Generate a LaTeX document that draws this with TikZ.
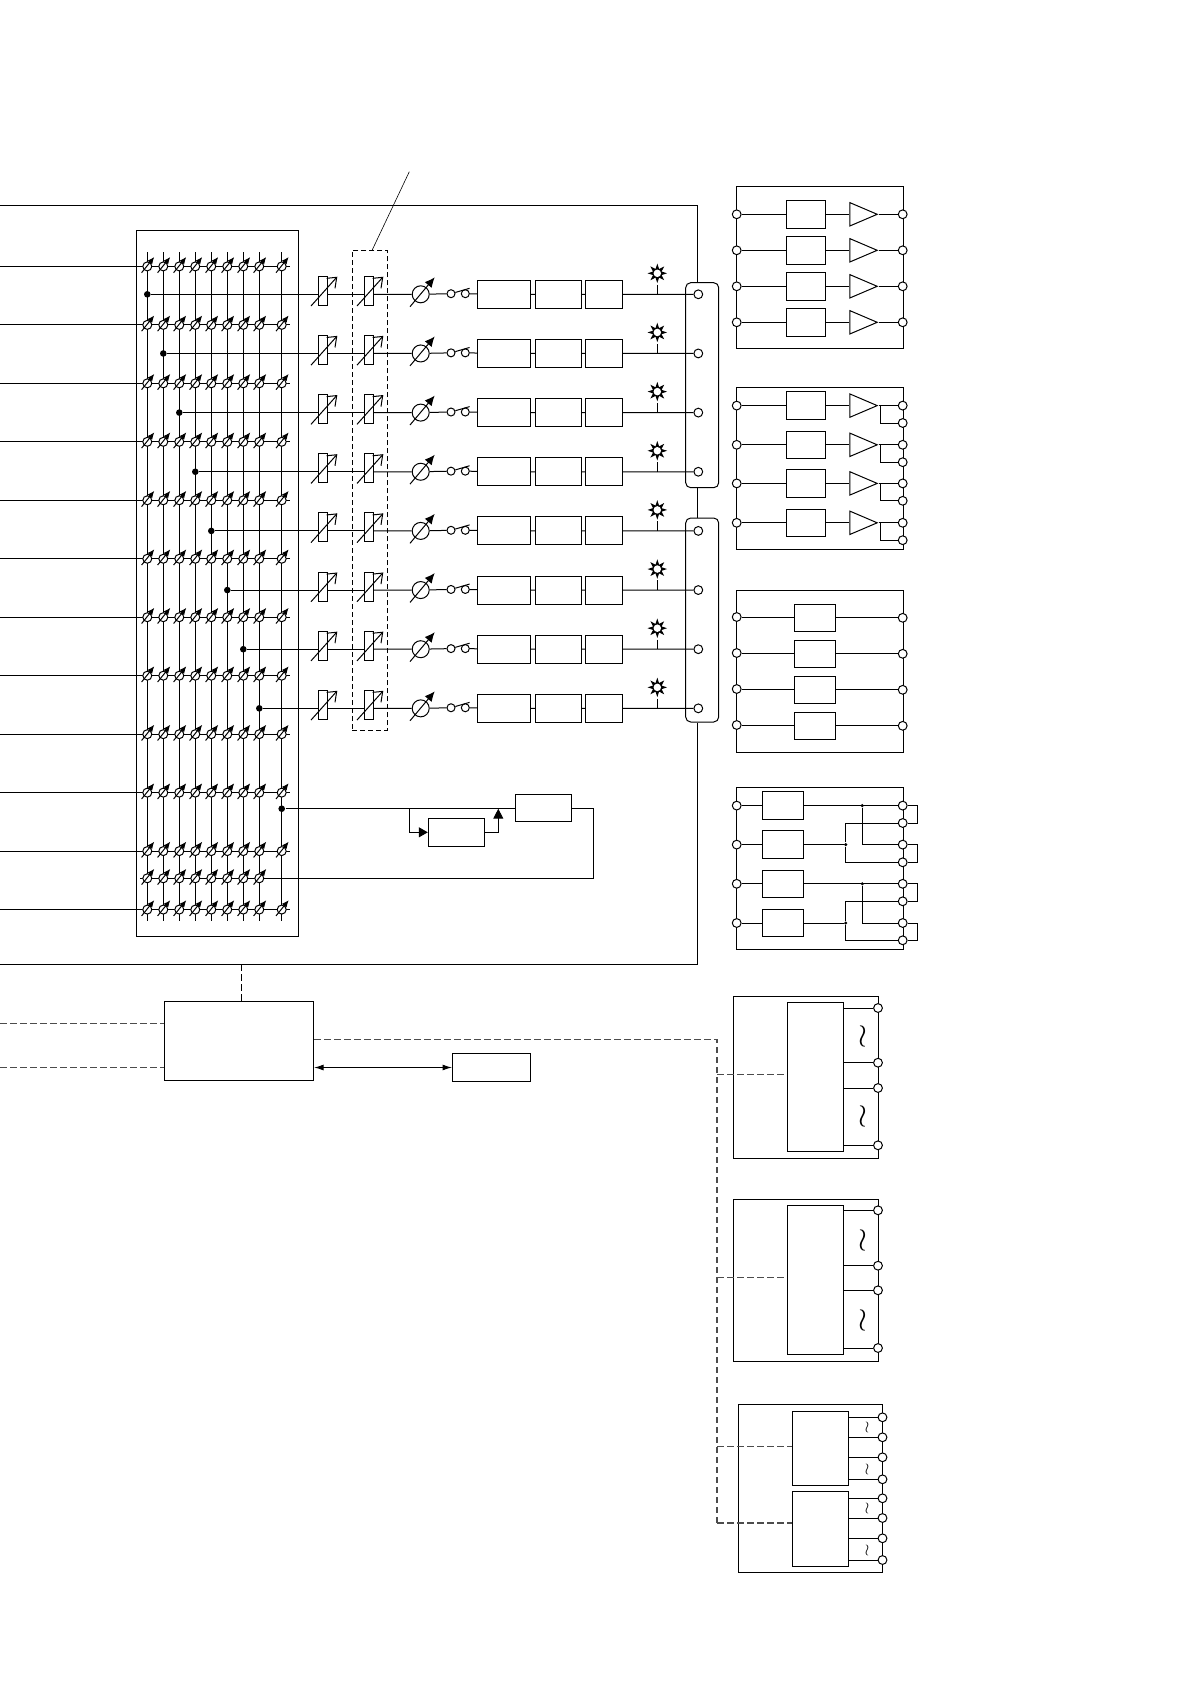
\documentclass[tikz,border=0pt]{standalone}
\usetikzlibrary{arrows.meta,positioning,calc,shapes.geometric}

\begin{document}
\begin{tikzpicture}[
  x=1pt,y=-1pt,line width=1pt,
  blk/.style={draw,fill=white,inner sep=0pt},
  chA/.style={blk,minimum width=53.4pt,minimum height=28pt},
  chB/.style={blk,minimum width=46.4pt,minimum height=28pt},
  chC/.style={blk,minimum width=37.4pt,minimum height=28pt},
  rvbar/.style={blk,minimum width=9.4pt,minimum height=29pt},
  modbox/.style={blk,minimum width=39.4pt,minimum height=27.6pt},
  frame/.style={draw,inner sep=0pt,minimum width=167pt,minimum height=162pt},
  term/.style={circle,draw,fill=white,inner sep=0pt,minimum size=8.8pt},
  junc/.style={circle,fill=black,inner sep=0pt,minimum size=6.6pt},
  smalljunc/.style={circle,fill=black,inner sep=0pt,minimum size=3.4pt},
  amp/.style={isosceles triangle,isosceles triangle stretches,draw,fill=white,inner sep=0pt,
    minimum width=23.4pt,minimum height=27.4pt,anchor=lower side},
  dashline/.style={dash pattern=on 6.5pt off 3.5pt,line width=1.1pt,black!70},
  flow/.style={{Latex[length=9.5pt,width=6pt]}-{Latex[length=9.5pt,width=6pt]}},
  trim/.pic={
    \draw[fill=white] (0,0) circle (4.5pt);
    \draw[-{Latex[length=7pt,width=6pt]}] (-5.7,6.3) -- (7,-9.4);
  },
  rvslash/.pic={
    \draw (-12,11.7) -- (13.7,-17);
    \draw (3.7,-16) -- (13.7,-17) -- (12,-6);
  },
  tune/.pic={
    \draw[-{Latex[length=10pt,width=9pt]}] (-10.7,12.4) -- (14,-17);
  },
  lamp/.style={star,star points=8,star point ratio=2.1,fill=black,inner sep=0pt,minimum size=19.5pt}
]
  \useasboundingbox (0,0) rectangle (1190,1684);

  % matrix
  \node[draw,inner sep=0pt,minimum width=161.5pt,minimum height=706pt] (matrix) at (217.25,583) {};
  \foreach \c/\cx in {0/147.3,1/163.3,2/179.3,3/195.3,4/211.3,5/227.3,6/243.3,7/259.3,8/281.7} {
    \coordinate (colT\c) at (\cx,252);
    \coordinate (colB\c) at (\cx,921);
    \draw (colT\c) -- (colB\c);
  }
  \foreach \r in {0,...,11} {
    \pgfmathsetmacro\ry{266.4+58.47*\r}
    \coordinate (rowL\r) at (0,\ry);
    \coordinate (rowR\r) at (290,\ry);
    \draw (rowL\r) -- (rowR\r);
  }

  % channels
  \foreach \k/\cx in {0/147.3,1/163.3,2/179.3,3/195.3,4/211.3,5/227.3,6/243.3,7/259.3} {
    \pgfmathsetmacro\cy{294.3+59.15*\k}
    \node[junc] (dot\k) at (\cx,\cy) {};
    \node[rvbar] (rvA\k) at (323,\cy-3.5) {};
    \node[rvbar] (rvB\k) at (369,\cy-3.5) {};
    \node[circle,draw,inner sep=0pt,minimum size=17pt] (tune\k) at (420.7,\cy) {};
    \node[term,minimum size=8pt] (swL\k) at (451,\cy-.6) {};
    \node[term,minimum size=8pt] (swR\k) at (465.3,\cy-.6) {};
    \node[chA] (bA\k) at (504,\cy) {};
    \node[chB] (bB\k) at (558.5,\cy) {};
    \node[chC] (bC\k) at (604,\cy) {};
    \node[term] (out\k) at (698.3,\cy) {};
    \node[lamp] (lamp\k) at (657.3,\cy-21) {};
    \node[circle,fill=white,inner sep=0pt,minimum size=7.5pt] (lampc\k) at (657.3,\cy-21) {};
    \draw (dot\k) -- (dot\k -| rvA\k.west);
    \draw (dot\k -| rvA\k.east) -- (dot\k -| rvB\k.west);
    \draw (dot\k -| rvB\k.east) -- (tune\k) -- (swL\k);
    \draw (swL\k) -- ++(18.6,-5.4);
    \draw (swR\k) -- (bA\k) -- (bB\k) -- (bC\k) -- (out\k);
    \draw (lamp\k) -- (lamp\k |- out\k);
    \pic at (323,\cy) {rvslash};
    \pic at (369,\cy) {rvslash};
    \pic at (420.7,\cy) {tune};
  }
  \node[draw,dash pattern=on 5pt off 3pt,inner sep=0pt,minimum width=35pt,minimum height=480pt] (group) at (369.8,490.3) {};
  \coordinate (lead) at (409.3,171.7);
  \draw[line width=.6pt] ([xshift=2.5pt]group.north) -- (lead);

  % regulator
  \node[junc] (dotR) at (281.7,808.7) {};
  \node[blk,minimum width=56.4pt,minimum height=27pt] (regA) at (543.5,808.2) {};
  \node[blk,minimum width=56.4pt,minimum height=28pt] (regB) at (456.5,832.3) {};
  \coordinate (tapL) at (409.3,808.7);
  \coordinate (tapR) at (498.3,808.7);
  \coordinate (backC) at (593.3,878.3);
  \coordinate (backS) at (140,878.3);
  \draw (dotR) -- (dotR -| regA.west);
  \draw[-{Triangle[length=9pt,width=10pt]}] (tapL) |- (regB.west);
  \draw[-{Triangle[length=10pt,width=10pt]}] (regB.east) -| (tapR);
  \draw (dotR -| regA.east) -| (backC) -- (backS);

  % meters
  \foreach \r in {0,...,11} {
    \pgfmathsetmacro\ry{266.4+58.47*\r}
    \foreach \cx in {147.3,163.3,179.3,195.3,211.3,227.3,243.3,259.3,281.7} {
      \pic at (\cx,\ry) {trim};
    }
  }
  \foreach \cx in {147.3,163.3,179.3,195.3,211.3,227.3,243.3,259.3} {
    \pic at (\cx,878.3) {trim};
  }

  % outer frame
  \node[draw,rounded corners=5pt,inner sep=0pt,minimum width=33pt,minimum height=205pt] (portA) at (702.2,385.2) {};
  \node[draw,rounded corners=5pt,inner sep=0pt,minimum width=33pt,minimum height=204pt] (portB) at (702.2,620) {};
  \coordinate (topL) at (0,205.3);
  \coordinate (botL) at (0,964.3);
  \coordinate (sideR) at (697.6,0);
  \draw (topL) -| (portA.north -| sideR);
  \draw (portA.south -| sideR) -- (portB.north -| sideR);
  \draw (portB.south -| sideR) |- (botL);

  % controller
  \node[blk,minimum width=149.3pt,minimum height=79pt] (ctrl) at (238.95,1040.8) {};
  \node[blk,minimum width=78.2pt,minimum height=28.4pt] (disp) at (491.6,1067.5) {};
  \coordinate (ctrlT) at (241.5,964.3);
  \coordinate (inA) at (0,1023.2);
  \coordinate (inB) at (0,1067.2);
  \coordinate (busT) at (717,1039.7);
  \coordinate (busB) at (717,1523);
  \draw[dashline,black] (ctrlT) -- (ctrlT |- ctrl.north);
  \draw[dashline] (inA) -- (inA -| ctrl.west);
  \draw[dashline] (inB) -- (inB -| ctrl.west);
  \draw[dashline] (ctrl.east |- busT) -- (busT) -- (busB);
  \draw[flow] (ctrl.east |- disp) -- (disp);

  % module with amplifiers
  \node[frame] (modA) at (819.8,267.3) {};
  \foreach \i/\y in {1/214.3,2/250.3,3/286.3,4/322.3} {
    \node[term] (aL\i) at (736.7,\y) {};
    \node[term] (aR\i) at (902.7,\y) {};
    \node[modbox] (aB\i) at (806,\y) {};
    \node[amp] (aT\i) at (849.3,\y) {};
    \draw (aL\i) -- (aB\i) -- (aT\i.lower side);
    \draw (aT\i.apex) -- (aR\i);
  }

  % module with amplifiers, doubled outputs
  \node[frame] (modB) at (819.8,468.3) {};
  \foreach \i/\y in {1/405.6,2/444.8,3/483.4,4/522.8} {
    \node[term] (bL\i) at (736.7,\y) {};
    \node[term] (bR\i) at (902.7,\y) {};
    \node[term] (bS\i) at (902.7,\y+17.4) {};
    \node[modbox] (bM\i) at (806,\y) {};
    \node[amp] (bT\i) at (849.3,\y) {};
    \coordinate (bJ\i) at (880.3,\y);
    \draw (bL\i) -- (bM\i) -- (bT\i.lower side);
    \draw (bT\i.apex) -- (bR\i);
    \draw (bJ\i) |- (bS\i);
  }

  % module with boxes only
  \node[frame] (modC) at (819.8,671.3) {};
  \foreach \i/\y in {1/617.8,2/653.8,3/689.8,4/725.8} {
    \node[term] (cL\i) at (736.7,\y-.8) {};
    \node[term] (cR\i) at (902.7,\y) {};
    \node[blk,minimum width=41.4pt,minimum height=27pt] (cM\i) at (815,\y) {};
    \draw (cL\i.east |- cM\i) -- (cM\i.west);
    \draw (cM\i) -- (cR\i);
  }

  % module with cross connected outputs
  \node[frame] (modD) at (819.8,868.3) {};
  \coordinate (tapA) at (862.3,0);
  \coordinate (tapB) at (845.7,0);
  \foreach \i/\y in {1/805.6,2/844.6,3/883.8,4/923} {
    \node[term] (dL\i) at (736.7,\y) {};
    \node[blk,minimum width=41pt,minimum height=27.4pt] (dM\i) at (782.8,\y) {};
    \draw (dL\i) -- (dM\i);
  }
  \foreach \i/\y in {1/805.6,2/823,3/844.6,4/862.3,5/883.8,6/901.3,7/923,8/940.3} {
    \node[term] (dR\i) at (902.7,\y) {};
  }
  \foreach \u/\v in {1/2,3/4,5/6,7/8} {
    \draw (dR\u) -- ++(15,0) |- (dR\v);
  }
  \node[smalljunc] (dJa1) at (tapA |- dR1) {};
  \node[smalljunc] (dJa3) at (tapA |- dR5) {};
  \node[smalljunc] (dJb1) at (tapB |- dR3) {};
  \node[smalljunc] (dJb3) at (tapB |- dR7) {};
  \draw (dM1) -- (dR1);
  \draw (dM3) -- (dR5);
  \draw (dJa1) |- (dR3);
  \draw (dJa3) |- (dR7);
  \draw (dM2) -- (dJb1);
  \draw (dM4) -- (dJb3);
  \draw (dR2) -| (dJb1);
  \draw (dR4) -| (dJb1);
  \draw (dR6) -| (dJb3);
  \draw (dR8) -| (dJb3);

  % inverter modules
  \node[frame,minimum width=145pt,minimum height=162.3pt] (modE) at (805.8,1077.15) {};
  \node[blk,minimum width=56pt,minimum height=149pt] (invE) at (815.3,1076.8) {};
  \foreach \i/\y in {1/1008,2/1062.7,3/1088,4/1145.3} {
    \node[term] (eR\i) at (878,\y) {};
    \draw (invE.east |- eR\i) -- (eR\i);
  }
  \node[frame,minimum width=145pt,minimum height=162pt] (modF) at (805.8,1280.3) {};
  \node[blk,minimum width=56pt,minimum height=149pt] (invF) at (815.3,1279.8) {};
  \foreach \i/\y in {1/1210.3,2/1265.7,3/1290.3,4/1348} {
    \node[term] (fR\i) at (878,\y) {};
    \draw (invF.east |- fR\i) -- (fR\i);
  }
  \node[frame,minimum width=144.4pt,minimum height=167.7pt] (modG) at (810.5,1488.15) {};
  \node[blk,minimum width=56pt,minimum height=74pt] (invG) at (820.3,1448.3) {};
  \node[blk,minimum width=56pt,minimum height=75pt] (invH) at (820.3,1528.8) {};
  \foreach \i/\y in {1/1417.3,2/1437.3,3/1457.3,4/1479.3} {
    \node[term] (gR\i) at (882.5,\y) {};
    \draw (invG.east |- gR\i) -- (gR\i);
  }
  \foreach \i/\y in {1/1498.3,2/1518,3/1538.3,4/1560} {
    \node[term] (hR\i) at (882.5,\y) {};
    \draw (invH.east |- hR\i) -- (hR\i);
  }
  \foreach \n/\y in {invE/1074.7,invF/1277.3,invG/1446.7,invH/1523} {
    \coordinate (tap\n) at (717,\y);
    \draw[dashline] (tap\n) -- (tap\n -| \n.west);
  }
  \foreach \x/\y in {863.3/1036.7,863.3/1116.7,863.3/1240,863.3/1320} {
    \node[scale=3.2,inner sep=0pt] at (\x,\y) {$\wr$};
  }
  \foreach \y in {1427.3,1469,1508.3,1550} {
    \node[scale=1.6,inner sep=0pt] at (867,\y) {$\wr$};
  }
\end{tikzpicture}
\end{document}
